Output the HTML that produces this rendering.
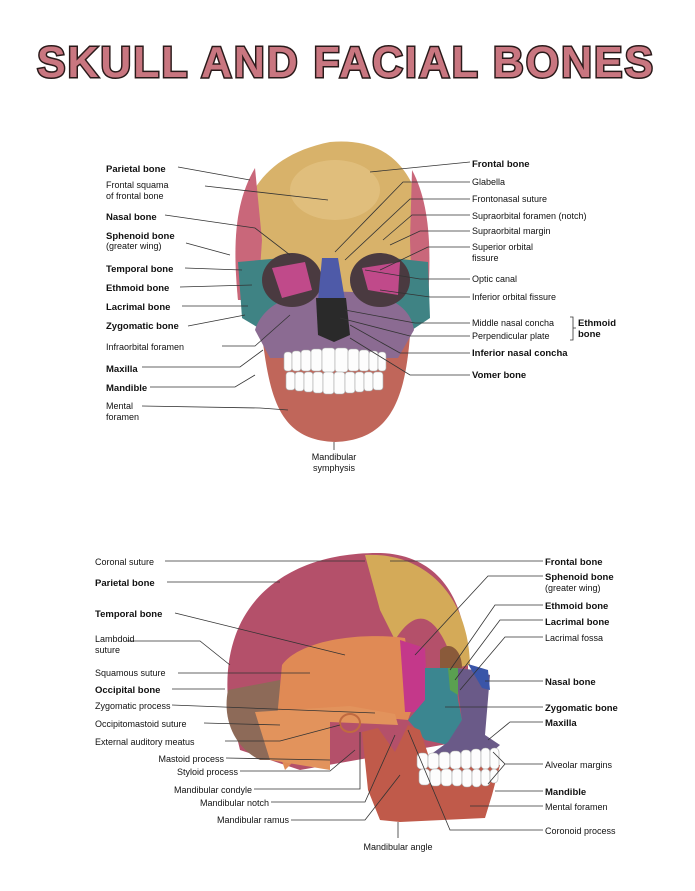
<!DOCTYPE html>
<html><head><meta charset="utf-8"><style>
html,body{margin:0;padding:0;background:#fff}
svg{display:block}
text{font-family:"Liberation Sans",Arial,sans-serif;font-size:9px;fill:#111}
.b{font-weight:bold;font-size:9.5px}
.l{stroke:#333;stroke-width:0.8;fill:none}
.t{fill:#fdfdfd;stroke:#aaa;stroke-width:0.6}
</style></head><body>
<svg width="695" height="891" viewBox="0 0 695 891">
<rect width="695" height="891" fill="#fff"/>
<text x="346" y="77" text-anchor="middle" textLength="618" lengthAdjust="spacingAndGlyphs" style="font-size:44px;font-weight:bold;fill:#c97680;stroke:#2a1a1a;stroke-width:3;paint-order:stroke;letter-spacing:2px">SKULL AND FACIAL BONES</text>

<!-- FRONT SKULL -->
<g>
<path d="M262,335 C270,400 280,440 335,442 C390,440 405,400 410,335 Z" fill="#c0665a"/>
<path d="M238,300 C232,230 240,160 330,142 C410,135 432,200 428,300 Z" fill="#d8b26a"/>
<ellipse cx="335" cy="190" rx="45" ry="30" fill="#e6c688" opacity="0.6"/>
<path d="M238,300 C232,240 236,200 255,168 L262,240 L258,300 Z" fill="#c9677a"/>
<path d="M428,300 C432,240 428,200 412,170 L410,240 L412,300 Z" fill="#c9677a"/>
<path d="M238,262 L282,258 L290,325 L262,330 L242,318 Z" fill="#3f8384"/>
<path d="M428,262 L392,258 L386,325 L412,330 L430,318 Z" fill="#3f8384"/>
<path d="M255,330 C265,300 300,290 335,292 C375,290 410,300 414,330 L398,358 L270,358 Z" fill="#8b6b92"/>
<ellipse cx="292" cy="280" rx="30" ry="27" fill="#4a3a40"/>
<ellipse cx="380" cy="280" rx="30" ry="27" fill="#4a3a40"/>
<path d="M272,268 L305,262 L312,290 L282,298 Z" fill="#c04a8a"/>
<path d="M362,268 L400,262 L398,295 L368,290 Z" fill="#c04a8a"/>
<path d="M322,258 L338,258 L345,300 L318,300 Z" fill="#4e5aa8"/>
<path d="M316,298 L346,298 L350,335 L334,342 L318,335 Z" fill="#2a2a2a"/>
<g>
<rect class="t" x="284" y="352" width="8" height="19" rx="3"/><rect class="t" x="292" y="351" width="9" height="20" rx="3"/><rect class="t" x="301" y="350" width="10" height="21" rx="3"/><rect class="t" x="311" y="349" width="11" height="22" rx="3"/><rect class="t" x="322" y="348" width="13" height="24" rx="3"/><rect class="t" x="335" y="348" width="13" height="24" rx="3"/><rect class="t" x="348" y="349" width="11" height="22" rx="3"/><rect class="t" x="359" y="350" width="10" height="21" rx="3"/><rect class="t" x="369" y="351" width="9" height="20" rx="3"/><rect class="t" x="378" y="352" width="8" height="19" rx="3"/>
<rect class="t" x="286" y="372" width="9" height="18" rx="3"/><rect class="t" x="295" y="372" width="9" height="19" rx="3"/><rect class="t" x="304" y="372" width="9" height="20" rx="3"/><rect class="t" x="313" y="372" width="10" height="21" rx="3"/><rect class="t" x="323" y="372" width="11" height="22" rx="3"/><rect class="t" x="334" y="372" width="11" height="22" rx="3"/><rect class="t" x="345" y="372" width="10" height="21" rx="3"/><rect class="t" x="355" y="372" width="9" height="20" rx="3"/><rect class="t" x="364" y="372" width="9" height="19" rx="3"/><rect class="t" x="373" y="372" width="10" height="18" rx="3"/>
</g>
</g>
<!-- front leaders left -->
<path class="l" d="M178,167 L250,180 M205,186 L328,200 M165,215 L255,228 L290,255 M186,243 L230,255 M185,268 L242,270 M180,287 L252,285 M182,306 L248,306 M188,326 L245,315 M222,346 L255,346 L290,315 M142,367 L240,367 L263,350 M150,387 L235,387 L255,375 M142,406 L260,408 L288,410 M334,442 L334,450"/>
<!-- front leaders right -->
<path class="l" d="M470,162 L370,172 M470,182 L403,182 L335,252 M470,199 L410,199 L345,260 M470,215 L412,215 L383,240 M470,231 L420,231 L390,245 M470,247 L428,247 L380,270 M470,279 L420,279 L365,270 M470,297 L430,297 L380,290 M470,323 L415,323 L345,310 M470,336 L410,336 L340,318 M470,353 L400,353 L350,325 M470,375 L410,375 L350,338 M570,317 L573,317 L573,340 L570,340 M573,328 L576,328"/>
<g>
<text x="106" y="172" class="b">Parietal bone</text>
<text x="106" y="188">Frontal  squama</text>
<text x="106" y="199">of frontal bone</text>
<text x="106" y="220" class="b">Nasal bone</text>
<text x="106" y="239" class="b">Sphenoid bone</text>
<text x="106" y="249">(greater wing)</text>
<text x="106" y="272" class="b">Temporal bone</text>
<text x="106" y="291" class="b">Ethmoid bone</text>
<text x="106" y="310" class="b">Lacrimal bone</text>
<text x="106" y="329" class="b">Zygomatic bone</text>
<text x="106" y="350">Infraorbital foramen</text>
<text x="106" y="372" class="b">Maxilla</text>
<text x="106" y="391" class="b">Mandible</text>
<text x="106" y="409">Mental</text>
<text x="106" y="420">foramen</text>
<text x="334" y="460" text-anchor="middle">Mandibular</text>
<text x="334" y="471" text-anchor="middle">symphysis</text>
<text x="472" y="167" class="b">Frontal bone</text>
<text x="472" y="185">Glabella</text>
<text x="472" y="202">Frontonasal suture</text>
<text x="472" y="219">Supraorbital foramen (notch)</text>
<text x="472" y="234">Supraorbital margin</text>
<text x="472" y="250">Superior orbital</text>
<text x="472" y="261">fissure</text>
<text x="472" y="282">Optic canal</text>
<text x="472" y="300">Inferior orbital fissure</text>
<text x="472" y="326">Middle nasal concha</text>
<text x="472" y="339">Perpendicular plate</text>
<text x="578" y="326" class="b">Ethmoid</text>
<text x="578" y="337" class="b">bone</text>
<text x="472" y="356" class="b">Inferior nasal concha</text>
<text x="472" y="378" class="b">Vomer bone</text>
</g>

<!-- LATERAL SKULL -->
<g>
<path d="M228,700 C220,600 290,552 380,553 C440,555 470,600 468,680 L470,740 L300,770 L240,750 Z" fill="#b4506a"/>
<path d="M228,690 C222,720 235,748 260,760 L285,760 L280,680 Z" fill="#8d6a58"/>
<path d="M365,555 C420,552 468,590 470,665 L455,668 C440,620 420,600 395,640 L380,610 Z" fill="#d4aa58"/>
<path d="M440,650 C450,640 462,650 462,668 L440,668 Z" fill="#8a5a3a"/>
<path d="M282,665 C300,640 360,632 405,638 L415,700 L408,720 L320,712 L300,755 L285,770 L275,740 Z" fill="#e08a55"/>
<path d="M255,712 L350,706 L395,714 L398,725 L330,722 L330,770 L270,760 Z" fill="#e2935c"/>
<path d="M400,640 L425,648 L428,712 L405,712 Z" fill="#c4388a"/>
<path d="M425,668 L455,668 L458,700 L462,720 L448,745 L425,740 L408,720 L425,700 Z" fill="#3b8690"/>
<path d="M455,668 L475,670 L490,675 L485,735 L500,745 L485,758 L430,755 L448,742 L462,720 Z" fill="#6a5a88"/>
<path d="M468,664 L488,670 L490,690 L482,688 Z" fill="#3a55a8"/>
<path d="M448,668 L458,668 L458,695 L450,690 Z" fill="#5aa050"/>
<path d="M362,732 L378,728 L395,752 L408,725 L420,730 L430,760 L500,765 L492,795 L485,818 L400,822 L380,820 L368,790 Z" fill="#c05a4a"/>
<g>
<rect class="t" x="417" y="753" width="11" height="16" rx="4"/><rect class="t" x="428" y="753" width="11" height="16" rx="4"/><rect class="t" x="439" y="752" width="11" height="17" rx="4"/><rect class="t" x="450" y="751" width="11" height="18" rx="4"/><rect class="t" x="461" y="750" width="10" height="19" rx="4"/><rect class="t" x="471" y="749" width="10" height="20" rx="4"/><rect class="t" x="481" y="748" width="9" height="21" rx="4"/><rect class="t" x="490" y="748" width="9" height="21" rx="4"/>
<rect class="t" x="419" y="769" width="11" height="16" rx="4"/><rect class="t" x="430" y="769" width="11" height="17" rx="4"/><rect class="t" x="441" y="769" width="11" height="17" rx="4"/><rect class="t" x="452" y="769" width="10" height="17" rx="4"/><rect class="t" x="462" y="769" width="10" height="18" rx="4"/><rect class="t" x="472" y="769" width="9" height="18" rx="4"/><rect class="t" x="481" y="769" width="9" height="17" rx="4"/><rect class="t" x="490" y="769" width="8" height="14" rx="4"/>
</g>
<ellipse cx="350" cy="723" rx="10" ry="9" fill="none" stroke="#c06a40" stroke-width="2"/>
</g>
<!-- lateral leaders -->
<path class="l" d="M165,561 L365,561 M167,582 L280,582 M175,613 L345,655 M126,641 L200,641 L230,665 M178,673 L310,673 M172,689 L225,689 M172,705 L375,713 M204,723 L280,725 M225,741 L280,741 L340,725 M226,758 L330,760 M240,771 L330,771 L355,750 M254,789 L360,789 L360,732 M271,802 L365,802 L395,735 M291,820 L365,820 L400,775 M398,822 L398,838 M543,561 L390,561 M543,576 L488,576 L415,655 M543,605 L495,605 L450,670 M543,620 L500,620 L455,680 M543,637 L505,637 L460,690 M543,681 L485,681 M543,707 L445,707 M543,722 L510,722 L488,740 M543,764 L505,764 L493,752 M505,764 L488,784 M543,791 L495,791 M543,806 L470,806 M543,830 L450,830 L408,730"/>
<g>
<text x="95" y="565">Coronal suture</text>
<text x="95" y="586" class="b">Parietal bone</text>
<text x="95" y="617" class="b">Temporal bone</text>
<text x="95" y="642">Lambdoid</text>
<text x="95" y="653">suture</text>
<text x="95" y="676">Squamous suture</text>
<text x="95" y="693" class="b">Occipital bone</text>
<text x="95" y="709">Zygomatic process</text>
<text x="95" y="727">Occipitomastoid suture</text>
<text x="95" y="745">External auditory meatus</text>
<text x="224" y="762" text-anchor="end">Mastoid process</text>
<text x="238" y="775" text-anchor="end">Styloid process</text>
<text x="252" y="793" text-anchor="end">Mandibular condyle</text>
<text x="269" y="806" text-anchor="end">Mandibular notch</text>
<text x="289" y="823" text-anchor="end">Mandibular ramus</text>
<text x="398" y="850" text-anchor="middle">Mandibular angle</text>
<text x="545" y="565" class="b">Frontal bone</text>
<text x="545" y="580" class="b">Sphenoid bone</text>
<text x="545" y="591">(greater wing)</text>
<text x="545" y="609" class="b">Ethmoid bone</text>
<text x="545" y="625" class="b">Lacrimal bone</text>
<text x="545" y="641">Lacrimal fossa</text>
<text x="545" y="685" class="b">Nasal bone</text>
<text x="545" y="711" class="b">Zygomatic bone</text>
<text x="545" y="726" class="b">Maxilla</text>
<text x="545" y="768">Alveolar margins</text>
<text x="545" y="795" class="b">Mandible</text>
<text x="545" y="810">Mental foramen</text>
<text x="545" y="834">Coronoid process</text>
</g>
</svg>
</body></html>
